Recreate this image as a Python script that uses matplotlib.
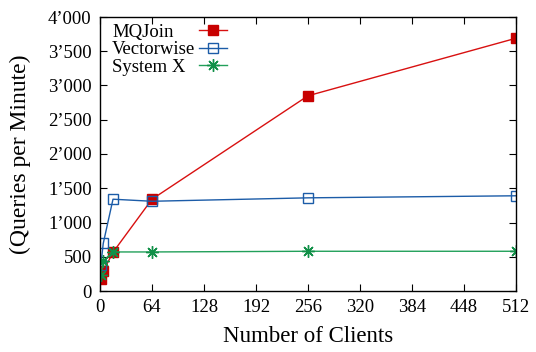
import matplotlib
matplotlib.use("Agg")
import matplotlib.pyplot as plt
from matplotlib.lines import Line2D
from matplotlib.ticker import FuncFormatter

plt.rcParams['font.family'] = ['Liberation Serif', 'DejaVu Serif']
plt.rcParams['font.size'] = 13.5

# throughput per number of concurrent clients
clients = [1, 4, 16, 64, 256, 512]
mqjoin = [180, 290, 565, 1340, 2850, 3690]
vectorwise = [375, 695, 1340, 1310, 1360, 1390]
systemx = [235, 440, 570, 570, 580, 580]

names = ['MQJoin', 'Vectorwise', 'System X']
x_ticks = [0, 64, 128, 192, 256, 320, 384, 448, 512]
y_ticks = [0, 500, 1000, 1500, 2000, 2500, 3000, 3500, 4000]


def thousands(v, pos):
    v = int(v)
    if v >= 1000:
        return "%d\u2019%03d" % (v // 1000, v % 1000)
    return str(v)


fig = plt.figure(figsize=(5.36, 3.52), dpi=100)
ax = fig.add_axes([100 / 536, 61 / 352, 416 / 536, 274 / 352])

l1, = ax.plot(clients, mqjoin, color='#d81010', lw=1, marker='s', ms=7,
              mfc='#c80000', mec='#c80000')
l2, = ax.plot(clients, vectorwise, color='#1c5ca8', lw=1, marker='s', ms=7,
              mfc='none', mew=1)
l3, = ax.plot(clients, systemx, color='#22a05a', lw=1, marker=(8, 2, 0), ms=9,
              mew=1, mec='#119048')

ax.set_xlim(0, 512)
ax.set_ylim(0, 4000)
ax.set_xticks(x_ticks)
ax.set_yticks(y_ticks)
ax.yaxis.set_major_formatter(FuncFormatter(thousands))
ax.tick_params(direction='in', top=True, right=True, length=5, width=0.8,
               labelsize=13.5, pad=6)
for s in ax.spines.values():
    s.set_linewidth(1)

ax.set_xlabel('Number of Clients', fontsize=16.5, labelpad=7)
ax.set_ylabel('(Queries per Minute)', fontsize=17, labelpad=12)

# gnuplot-like key: left aligned names, samples in their own column
blank = [Line2D([], [], linestyle='none') for _ in names]
key_opts = dict(loc='upper left', frameon=False, fontsize=13.5,
                labelspacing=0.02, borderpad=0, borderaxespad=0)
names_key = ax.legend(blank, names, bbox_to_anchor=(0.029, 0.976),
                      handlelength=0, handletextpad=0, **key_opts)
ax.add_artist(names_key)
marks_key = ax.legend([l1, l2, l3], names, bbox_to_anchor=(0.238, 0.976),
                      handlelength=1.5, handletextpad=0.3, **key_opts)
for t in marks_key.get_texts():
    t.set_alpha(0)

fig.savefig('out.png', dpi=100)
